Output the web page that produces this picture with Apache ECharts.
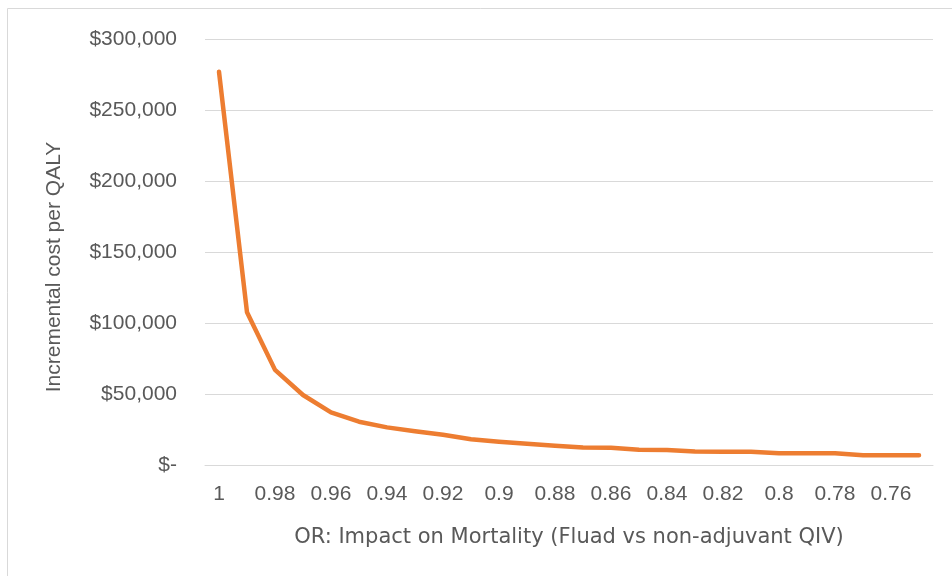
<!DOCTYPE html>
<html>
<head>
<meta charset="utf-8">
<script src="https://cdn.jsdelivr.net/npm/echarts@6/dist/echarts.min.js"></script>
<style>
html,body{margin:0;padding:0;background:#fff;}
#chart{width:952px;height:576px;}
</style>
</head>
<body>
<div id="chart"></div>
<script>
const categories = ['1','0.99','0.98','0.97','0.96','0.95','0.94','0.93','0.92','0.91','0.9','0.89','0.88','0.87','0.86','0.85','0.84','0.83','0.82','0.81','0.8','0.79','0.78','0.77','0.76','0.75'];
const costPerQaly = [277000, 107500, 67000, 49300, 37000, 30500, 26500, 23800, 21300, 18200, 16400, 15000, 13600, 12400, 12200, 10700, 10600, 9500, 9400, 9400, 8300, 8200, 8200, 6900, 6800, 6800];
const yTicks = [0, 50000, 100000, 150000, 200000, 250000, 300000];
const xTitle = 'OR: Impact on Mortality (Fluad vs non-adjuvant QIV)';
const yTitle = 'Incremental cost per QALY';

const chart = echarts.init(document.getElementById('chart'), null, {renderer:'canvas'});
const font = 'Liberation Sans, Arial, sans-serif';
chart.setOption({
  animation: false,
  graphic: [{
    type: 'rect', silent: true, z: -1,
    shape: {x: 7.5, y: 8.5, width: 1000, height: 1000},
    style: {fill: 'none', stroke: '#d9d9d9', lineWidth: 1}
  }],
  grid: {left: 205, right: 19, top: 39, bottom: 111, containLabel: false},
  xAxis: {
    type: 'category',
    data: categories,
    boundaryGap: true,
    axisLine: {show: true, lineStyle: {color: '#d9d9d9', width: 1}},
    axisTick: {show: false},
    axisLabel: {interval: 1, color: '#595959', fontSize: 21, fontFamily: font, margin: 19},
    name: xTitle,
    nameLocation: 'middle',
    nameGap: 62,
    nameTextStyle: {color: '#595959', fontSize: 21, fontFamily: 'DejaVu Sans, sans-serif'}
  },
  yAxis: {
    type: 'value',
    min: yTicks[0],
    max: yTicks[yTicks.length - 1],
    interval: yTicks[1] - yTicks[0],
    axisLine: {show: false},
    axisTick: {show: false},
    splitLine: {lineStyle: {color: '#d9d9d9', width: 1}},
    axisLabel: {
      color: '#595959', fontSize: 21, fontFamily: font, margin: 28,
      formatter: v => v === 0 ? '$-' : '$' + v.toLocaleString('en-US')
    },
    name: yTitle,
    nameLocation: 'middle',
    nameGap: 140,
    nameTextStyle: {color: '#595959', fontSize: 21, fontFamily: font, padding: [0, 30, 0, 0]}
  },
  series: [{
    type: 'line',
    data: costPerQaly,
    showSymbol: false,
    symbol: 'none',
    lineStyle: {color: '#ED7D31', width: 4.5, cap: 'round', join: 'round'},
    itemStyle: {color: '#ED7D31'}
  }]
});
</script>
</body>
</html>
